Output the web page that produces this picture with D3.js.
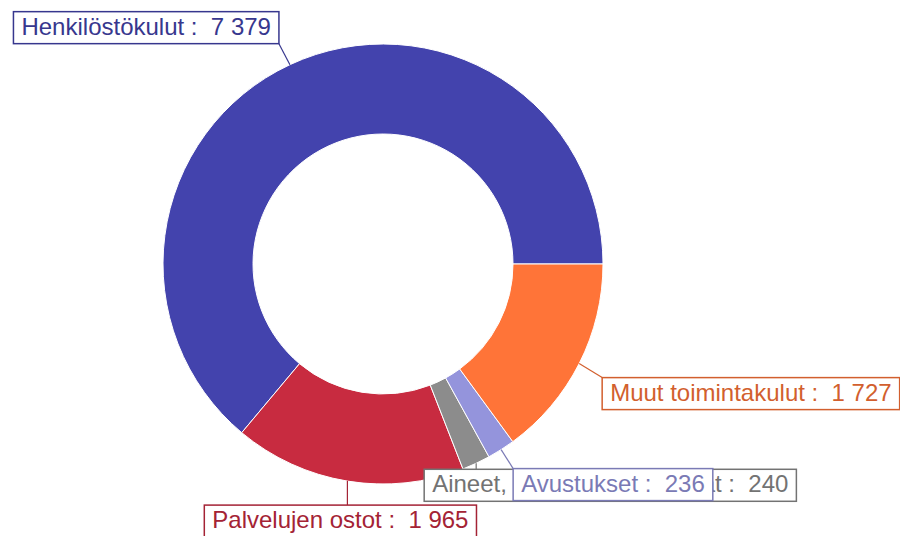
<!DOCTYPE html>
<html>
<head>
<meta charset="utf-8">
<script src="https://cdn.jsdelivr.net/npm/d3@7"></script>
<style>
  body { margin: 0; background: #fff; }
  svg { display: block; font-family: "Liberation Sans", Arial, sans-serif; }
</style>
</head>
<body>
<div id="chart"></div>
<script>
// data
const categories = ['Henkilöstökulut', 'Palvelujen ostot', 'Aineet, tarvikkeet ja tavarat', 'Avustukset', 'Muut toimintakulut'];
const values = [7379, 1965, 240, 236, 1727];
const colors = ['#4343ad', '#c82b40', '#8c8c8c', '#9494dc', '#ff7438'];

// label placement relative to the outer arc point of each slice
const labelLayout = {
  'Henkilöstökulut':              { h: 'end',    v: 'bottom', dx: -11, dy: -21 },
  'Palvelujen ostot':             { h: 'middle', v: 'top',    dx: -7,  dy: 24 },
  'Aineet, tarvikkeet ja tavarat':{ h: 'start',  v: 'top',    dx: -52, dy: 6 },
  'Avustukset':                   { h: 'start',  v: 'top',    dx: 12,  dy: 19 },
  'Muut toimintakulut':           { h: 'start',  v: 'top',    dx: 23,  dy: 14 }
};

const width = 900, height = 536;
const cx = 383, cy = 264;
const outerR = 220, innerR = 130;
const fontSize = 24, padX = 8, boxH = 32;

const fmt = d3.formatLocale({ decimal: ',', thousands: '\u00a0', grouping: [3], currency: ['', ' €'] }).format(',d');

const data = categories.map((c, i) => ({ name: c, value: values[i], color: colors[i] }));

const svg = d3.select('#chart').append('svg')
  .attr('width', width)
  .attr('height', height);

const pie = d3.pie()
  .sort(null)
  .value(d => d.value)
  .startAngle(Math.PI / 2)
  .endAngle(Math.PI / 2 - 2 * Math.PI);

const arc = d3.arc().innerRadius(innerR).outerRadius(outerR);

const arcs = pie(data);

const g = svg.append('g').attr('transform', `translate(${cx},${cy})`);

g.selectAll('path.slice')
  .data(arcs)
  .enter()
  .append('path')
  .attr('class', 'slice')
  .attr('d', arc)
  .attr('fill', d => d.data.color)
  .attr('stroke', '#fff')
  .attr('stroke-width', 1);

// labels
const labels = svg.append('g');

arcs.forEach(d => {
  const mid = (d.startAngle + d.endAngle) / 2;
  const px = cx + outerR * Math.sin(mid);
  const py = cy - outerR * Math.cos(mid);
  const lay = labelLayout[d.data.name];
  const labelColor = d3.color(d.data.color).darker(0.55).formatHex();

  const lg = labels.append('g');
  const line = lg.append('line')
    .attr('stroke', labelColor)
    .attr('stroke-width', 1.2);
  const rect = lg.append('rect')
    .attr('fill', '#fff')
    .attr('stroke', labelColor)
    .attr('stroke-width', 1.5);
  const text = lg.append('text')
    .attr('font-size', fontSize)
    .attr('fill', labelColor)
    .style('white-space', 'pre')
    .text(`${d.data.name} :  ${fmt(d.data.value)}`);

  const tw = text.node().getComputedTextLength();
  const bw = tw + padX * 2;
  let bx = px + lay.dx;
  if (lay.h === 'end') bx -= bw;
  if (lay.h === 'middle') bx -= bw / 2;
  let by = py + lay.dy;
  if (lay.v === 'bottom') by -= boxH;

  rect.attr('x', bx).attr('y', by).attr('width', bw).attr('height', boxH);
  text.attr('x', bx + padX).attr('y', by + 23);

  const nx = Math.max(bx, Math.min(px, bx + bw));
  const ny = Math.max(by, Math.min(py, by + boxH));
  line.attr('x1', px).attr('y1', py).attr('x2', nx).attr('y2', ny);
});
</script>
</body>
</html>
